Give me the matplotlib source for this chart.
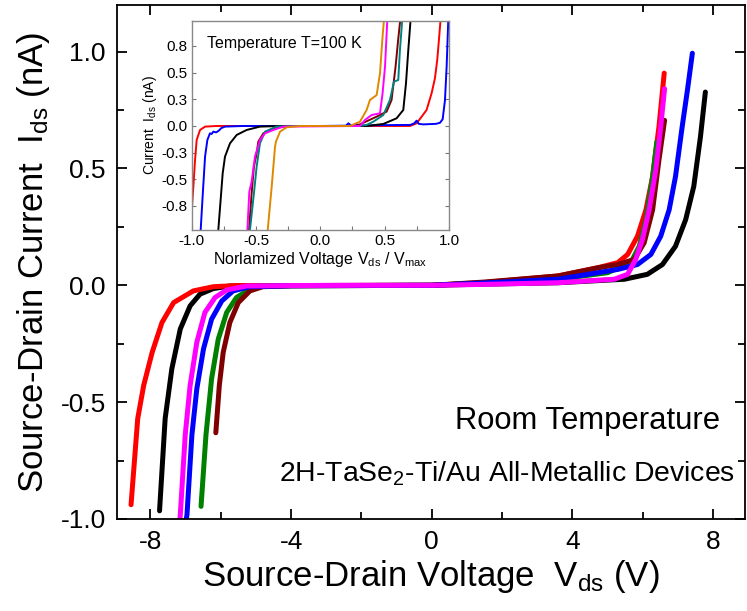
import matplotlib
matplotlib.use("Agg")
import matplotlib.pyplot as plt
from matplotlib.ticker import MultipleLocator, FixedLocator

plt.rcParams['font.family'] = ['Liberation Sans', 'DejaVu Sans']
plt.rcParams['mathtext.fontset'] = 'custom'
plt.rcParams['mathtext.rm'] = 'Liberation Sans'
plt.rcParams['mathtext.it'] = 'Liberation Sans:italic'
plt.rcParams['mathtext.bf'] = 'Liberation Sans:bold'

# ---------------- main panel data (room temperature) ----------------
red_v = [-8.55, -8.36, -8.19, -7.95, -7.67, -7.34, -6.78, -6.21, -5.55, -4.0, -2.0, 0.0, 1.5, 3.59, 4.72, 5.29, 5.57, 5.85, 6.09, 6.28, 6.46, 6.61]
red_i = [-0.939, -0.570, -0.428, -0.287, -0.159, -0.074, -0.024, -0.006, -0.001, -0.001, -0.0005, 0.0, 0.012, 0.040, 0.075, 0.097, 0.132, 0.210, 0.323, 0.465, 0.678, 0.908]

black_v = [-7.74, -7.58, -7.39, -7.15, -6.87, -6.59, -6.21, -5.74, -4.0, -2.0, 0.0, 1.5, 3.59, 5.48, 6.13, 6.56, 6.93, 7.22, 7.45, 7.64, 7.78]
black_i = [-0.965, -0.570, -0.357, -0.187, -0.088, -0.038, -0.014, -0.003, -0.001, -0.0005, 0.0, 0.005, 0.011, 0.026, 0.047, 0.089, 0.167, 0.281, 0.423, 0.635, 0.827]

blue_v = [-7.0, -6.96, -6.82, -6.68, -6.49, -6.26, -5.97, -5.65, -5.17, -4.0, -2.0, 0.0, 1.5, 3.59, 5.29, 5.85, 6.23, 6.51, 6.75, 6.93, 7.12, 7.27, 7.41]
blue_i = [-1.02, -0.982, -0.641, -0.443, -0.272, -0.145, -0.067, -0.024, -0.006, -0.002, -0.001, 0.0, 0.010, 0.026, 0.068, 0.089, 0.132, 0.210, 0.323, 0.465, 0.678, 0.835, 0.993]

green_v = [-6.56, -6.42, -6.26, -6.07, -5.83, -5.55, -5.17, -4.80, -4.0, -2.0, 0.0, 1.5, 3.59, 5.00, 5.66, 5.90, 6.09, 6.28, 6.40]
green_i = [-0.946, -0.641, -0.400, -0.230, -0.116, -0.052, -0.017, -0.003, -0.002, -0.001, 0.0, 0.010, 0.026, 0.054, 0.097, 0.167, 0.281, 0.465, 0.614]

maroon_v = [-6.14, -6.04, -5.93, -5.74, -5.50, -5.17, -4.80, -4.0, -2.0, 0.0, 1.5, 3.59, 4.72, 5.29, 5.76, 6.04, 6.28, 6.46, 6.62]
maroon_i = [-0.631, -0.428, -0.287, -0.159, -0.074, -0.024, -0.006, -0.002, -0.001, 0.0, 0.014, 0.040, 0.075, 0.089, 0.111, 0.182, 0.323, 0.536, 0.706]

magenta_v = [-7.17, -7.15, -7.01, -6.87, -6.68, -6.45, -6.16, -5.83, -5.27, -4.0, -2.0, 0.0, 1.5, 3.59, 5.19, 5.57, 5.80, 5.99, 6.18, 6.37, 6.51, 6.62]
magenta_i = [-1.02, -0.982, -0.641, -0.428, -0.244, -0.116, -0.052, -0.020, -0.003, -0.001, 0.0, 0.0, 0.004, 0.011, 0.026, 0.047, 0.111, 0.196, 0.323, 0.494, 0.678, 0.841]

main_x_ticks = [-8, -4, 0, 4, 8]
main_y_ticks = [-1.0, -0.5, 0.0, 0.5, 1.0]

# ---------------- inset data (T = 100 K) ----------------
in_red_u = [-1.005, -1.0, -0.987, -0.974, -0.961, -0.935, -0.896, -0.806, 0.0, 0.697, 0.749, 0.788, 0.826, 0.865, 0.891, 0.909, 0.922, 0.935]
in_red_i = [-0.90, -0.80, -0.57, -0.32, -0.13, -0.0375, -0.006, 0.0, 0.0, 0.0, 0.025, 0.0875, 0.15, 0.306, 0.447, 0.619, 0.806, 1.0]

in_blue_u = [-0.935, -0.930, -0.915, -0.896, -0.878, -0.858, -0.845, -0.832, -0.81, -0.79, -0.77, -0.741, -0.6, 0.0, 0.2, 0.218, 0.24, 0.265, 0.282, 0.30, 0.49, 0.70, 0.73, 0.749, 0.765, 0.80, 0.90, 0.93, 0.951, 0.969, 0.982, 0.995]
in_blue_i = [-1.0, -0.975, -0.6625, -0.2875, -0.131, -0.069, -0.075, -0.053, -0.06, -0.045, -0.02, -0.006, 0.0, 0.0, 0.003, 0.025, 0.003, 0.005, 0.019, 0.003, 0.008, 0.01, 0.025, 0.05, 0.02, 0.015, 0.02, 0.03, 0.0625, 0.24, 0.556, 1.0]

in_black_u = [-0.795, -0.793, -0.775, -0.759, -0.741, -0.702, -0.650, -0.573, -0.469, -0.3, 0.36, 0.49, 0.593, 0.645, 0.666, 0.684, 0.702]
in_black_i = [-1.0, -0.975, -0.694, -0.444, -0.2875, -0.1625, -0.084, -0.0375, -0.006, 0.0, 0.0, 0.019, 0.072, 0.15, 0.40, 0.7125, 1.0]

in_maroon_u = [-0.556, -0.554, -0.534, -0.516, -0.495, -0.482, -0.443, -0.365, -0.26, 0.28, 0.438, 0.49, 0.515, 0.554, 0.585, 0.605, 0.622]
in_maroon_i = [-1.0, -0.975, -0.631, -0.381, -0.256, -0.147, -0.069, -0.022, 0.0, 0.0, 0.0875, 0.119, 0.134, 0.244, 0.556, 0.806, 1.0]

in_teal_u = [-0.550, -0.547, -0.516, -0.495, -0.469, -0.430, -0.339, -0.2, 0.3, 0.36, 0.412, 0.49, 0.541, 0.573, 0.606, 0.619, 0.637]
in_teal_i = [-1.0, -0.975, -0.631, -0.381, -0.1625, -0.053, -0.006, 0.0, 0.0, 0.01, 0.04, 0.103, 0.244, 0.416, 0.431, 0.7125, 1.0]

in_magenta_u = [-0.57, -0.567, -0.552, -0.534, -0.508, -0.469, -0.430, -0.365, -0.288, 0.308, 0.347, 0.399, 0.464, 0.484, 0.503, 0.521]
in_magenta_i = [-1.0, -0.975, -0.616, -0.522, -0.2875, -0.131, -0.069, -0.0375, -0.006, 0.0, 0.056, 0.103, 0.119, 0.306, 0.556, 1.0]

in_orange_u = [-0.41, -0.409, -0.378, -0.352, -0.345, -0.313, -0.262, -0.158, 0.23, 0.308, 0.36, 0.386, 0.438, 0.464, 0.482, 0.495]
in_orange_i = [-1.0, -0.975, -0.569, -0.194, -0.147, -0.053, -0.0125, 0.0, 0.0, 0.04, 0.15, 0.244, 0.29, 0.494, 0.806, 1.0]

inset_x_ticks = [-1.0, -0.5, 0.0, 0.5, 1.0]
inset_x_labels = ['-1.0', '-0.5', '0.0', '0.5', '1.0']
inset_y_ticks = [-0.75, -0.5, -0.25, 0.0, 0.25, 0.5, 0.75]
inset_y_labels = ['-0.8', '-0.5', '-0.3', '0.0', '0.3', '0.5', '0.8']

# ---------------- figure ----------------
fig = plt.figure(figsize=(7.47, 6.11), dpi=100)
ax = fig.add_axes([0.1566, 0.1506, 0.8404, 0.8414])

lw = 3.6
kw = dict(lw=lw, solid_capstyle='round', solid_joinstyle='round')
ax.plot(black_v, black_i, color='black', **kw)
ax.plot(red_v, red_i, color='#FF0000', **kw)
ax.plot(green_v, green_i, color='#008000', **kw)
ax.plot(maroon_v, maroon_i, color='#7F0000', **kw)
ax.plot(blue_v, blue_i, color='#0000FF', **kw)
ax.plot(magenta_v, magenta_i, color='#FF00FF', **kw)

ax.set_xlim(-8.95, 8.9)
ax.set_ylim(-1.0, 1.2)
ax.xaxis.set_major_locator(FixedLocator(main_x_ticks))
ax.xaxis.set_minor_locator(MultipleLocator(2))
ax.yaxis.set_major_locator(FixedLocator(main_y_ticks))
ax.yaxis.set_minor_locator(MultipleLocator(0.25))
ax.set_xticklabels([f"{t:d}" for t in main_x_ticks])
ax.set_yticklabels([f"{t:.1f}" for t in main_y_ticks])
ax.tick_params(which='both', direction='in', top=True, right=True, labelsize=19, width=1.3, pad=8)
ax.tick_params(which='major', length=7)
ax.tick_params(which='minor', length=5)
for s in ax.spines.values():
    s.set_linewidth(1.3)

ax.set_xlabel(r'Source-Drain Voltage  V$_{\mathrm{ds}}$ (V)', fontsize=25, labelpad=3)
ax.set_ylabel(r'Source-Drain Current  I$_{\mathrm{ds}}$ (nA)', fontsize=25, labelpad=6)

ax.text(0.960, 0.175, 'Room Temperature', transform=ax.transAxes, ha='right', va='baseline', fontsize=22.3)
ax.text(0.984, 0.072, r'2H-TaSe$_{2}$-Ti/Au All-Metallic Devices', transform=ax.transAxes,
        ha='right', va='baseline', fontsize=20.4)

# ---------------- inset ----------------
ins = fig.add_axes([0.2566, 0.6236, 0.3444, 0.3426])
ins.set_facecolor('white')
ilw = 1.4
ins.plot(in_red_u, in_red_i, color='#FF0000', lw=ilw)
ins.plot(in_blue_u, in_blue_i, color='#0000FF', lw=ilw)
ins.plot(in_black_u, in_black_i, color='black', lw=ilw)
ins.plot(in_maroon_u, in_maroon_i, color='#7F0000', lw=ilw)
ins.plot(in_teal_u, in_teal_i, color='#008080', lw=ilw)
ins.plot(in_magenta_u, in_magenta_i, color='#FF00FF', lw=ilw)
ins.plot(in_orange_u, in_orange_i, color='#E08800', lw=ilw)

ins.set_xlim(-1.0, 1.0)
ins.set_ylim(-0.975, 0.9875)
ins.xaxis.set_major_locator(FixedLocator(inset_x_ticks))
ins.set_xticklabels(inset_x_labels)
ins.xaxis.set_minor_locator(MultipleLocator(0.25))
ins.yaxis.set_major_locator(FixedLocator(inset_y_ticks))
ins.set_yticklabels(inset_y_labels)
ins.tick_params(which='both', direction='in', right=True, top=False, labelsize=11,
                color='#777777', length=3, width=0.8, pad=3)
for s in ins.spines.values():
    s.set_color('#888888')
    s.set_linewidth(1.0)
ins.set_xlabel(r'Norlamized Voltage V$_{\mathrm{ds}}$ / V$_{\mathrm{max}}$', fontsize=11.5, labelpad=1)
ins.set_ylabel(r'Current  I$_{\mathrm{ds}}$ (nA)', fontsize=10, labelpad=2)
ins.text(0.06, 0.89, 'Temperature T=100 K', transform=ins.transAxes, ha='left', va='center', fontsize=11.5)

fig.savefig('out.png', dpi=100)
